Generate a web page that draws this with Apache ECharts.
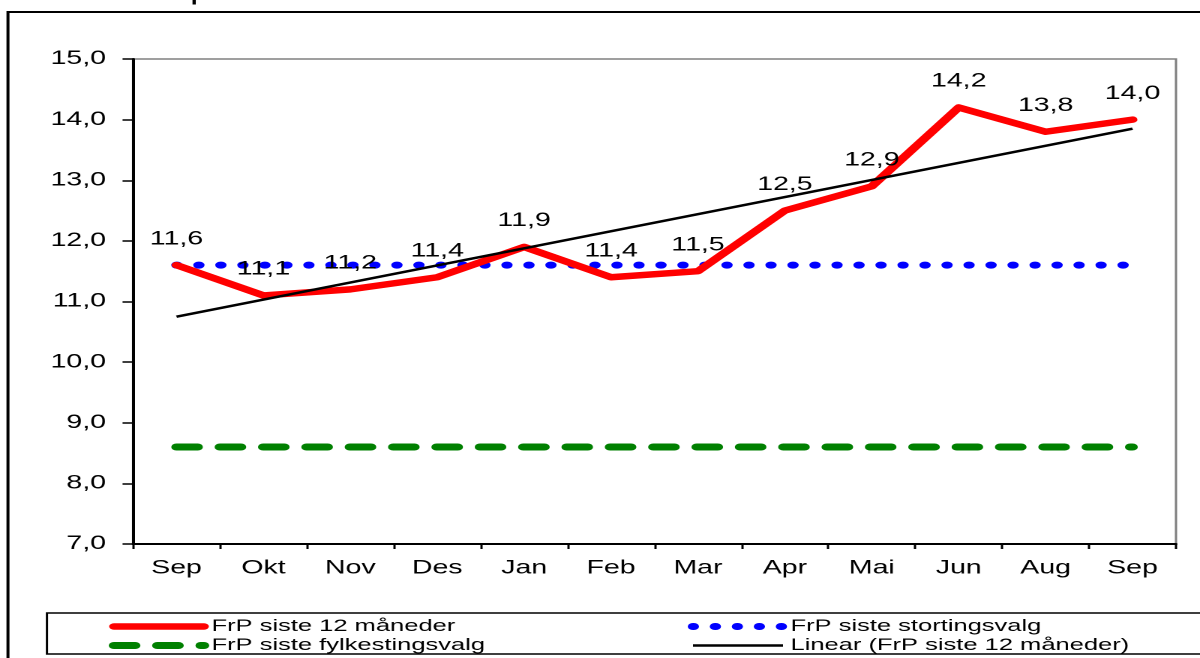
<!DOCTYPE html>
<html>
<head>
<meta charset="utf-8">
<script src="https://cdn.jsdelivr.net/npm/echarts@6/dist/echarts.min.js"></script>
<style>
  html, body { margin: 0; padding: 0; background: #fff; overflow: hidden; }
  /* original picture is stretched sideways, so draw narrow and scale x */
  #wrap { width: 1200px; height: 658px; overflow: hidden; }
  #chart { width: 800px; height: 658px; transform: scaleX(1.5); transform-origin: 0 0; }
</style>
</head>
<body>
<div id="wrap"><div id="chart"></div></div>
<script>
// maaneder
const months = ['Sep', 'Okt', 'Nov', 'Des', 'Jan', 'Feb', 'Mar', 'Apr', 'Mai', 'Jun', 'Aug', 'Sep'];
// FrP siste 12 måneder
const frp12 = [11.6, 11.1, 11.2, 11.4, 11.9, 11.4, 11.5, 12.5, 12.9, 14.2, 13.8, 14.0];
// FrP siste stortingsvalg
const storting = [11.6, 11.6, 11.6, 11.6, 11.6, 11.6, 11.6, 11.6, 11.6, 11.6, 11.6, 11.6];
// FrP siste fylkestingsvalg
const fylkesting = [8.6, 8.6, 8.6, 8.6, 8.6, 8.6, 8.6, 8.6, 8.6, 8.6, 8.6, 8.6];
// trendlinje, lest av ved start og slutt
const trend = [10.75, null, null, null, null, null, null, null, null, null, null, 13.85];
const yTicks = [7, 8, 9, 10, 11, 12, 13, 14, 15];

const names = ['FrP siste 12 måneder', 'FrP siste stortingsvalg', 'FrP siste fylkestingsvalg', 'Linear (FrP siste 12 måneder)'];
const font = 'Liberation Sans, Arial, sans-serif';
const komma = v => v.toFixed(1).replace('.', ',');

const chart = echarts.init(document.getElementById('chart'), null, { renderer: 'canvas', devicePixelRatio: 2 });

const legendBase = {
  orient: 'vertical',
  top: 617,
  itemWidth: 60,
  itemHeight: 2,
  itemGap: 0,
  selectedMode: false,
  textStyle: { fontFamily: font, fontSize: 17, lineHeight: 19, color: '#000' },
  lineStyle: { width: 'inherit', type: 'inherit' },
  padding: 0
};

chart.setOption({
  animation: false,
  backgroundColor: '#fff',
  graphic: [
    {
      type: 'text', left: 3, top: -20, silent: true,
      style: { text: 'Fremskrittspartiet', font: '25px ' + font, fill: '#000' }
    },
    {
      type: 'rect', silent: true, z: -1,
      shape: { x: 5.3, y: 12, width: 900, height: 700 },
      style: { fill: 'none', stroke: '#000', lineWidth: 2 }
    },
    {
      type: 'rect', silent: true, z: -1,
      shape: { x: 31.3, y: 613, width: 900, height: 41 },
      style: { fill: 'none', stroke: '#000', lineWidth: 1.5 }
    }
  ],
  legend: [
    Object.assign({}, legendBase, { left: 72.5, data: [names[0], names[2]] }),
    Object.assign({}, legendBase, { left: 458.5, data: [names[1], names[3]] })
  ],
  grid: {
    left: 88.7, right: 16, top: 59, bottom: 114,
    show: true, borderColor: '#808080', borderWidth: 1.5, backgroundColor: '#fff'
  },
  xAxis: {
    type: 'category',
    data: months,
    boundaryGap: true,
    axisLine: { lineStyle: { color: '#000', width: 2 } },
    axisTick: { show: true, length: 5, lineStyle: { color: '#000', width: 1.5 } },
    axisLabel: { color: '#000', fontFamily: font, fontSize: 19, margin: 15 },
    splitLine: { show: false }
  },
  yAxis: {
    type: 'value',
    min: yTicks[0],
    max: yTicks[yTicks.length - 1],
    interval: 1,
    axisLine: { show: true, lineStyle: { color: '#000', width: 2 } },
    axisTick: { show: true, length: 7, lineStyle: { color: '#000', width: 1.5 } },
    axisLabel: { color: '#000', fontFamily: font, fontSize: 19, margin: 18, formatter: komma },
    splitLine: { show: false }
  },
  series: [
    {
      name: names[2], type: 'line', data: fylkesting,
      symbol: 'none', z: 2,
      lineStyle: { color: '#008000', width: 7, type: [14.1, 14.8], cap: 'round' },
      itemStyle: { color: '#008000' }
    },
    {
      name: names[1], type: 'line', data: storting,
      symbol: 'none', z: 3,
      lineStyle: { color: '#0000ff', width: 7, type: [0.5, 14.17], cap: 'round' },
      itemStyle: { color: '#0000ff' }
    },
    {
      name: names[0], type: 'line', data: frp12,
      symbol: 'circle', symbolSize: 1, z: 4,
      lineStyle: { color: '#ff0000', width: 6.5, join: 'round', cap: 'round' },
      itemStyle: { color: '#ff0000' },
      label: {
        show: true, position: 'top', distance: 16,
        color: '#000', fontFamily: font, fontSize: 19,
        formatter: p => komma(p.value)
      }
    },
    {
      name: names[3], type: 'line', data: trend,
      symbol: 'none', connectNulls: true, z: 5,
      lineStyle: { color: '#000', width: 2.5 },
      itemStyle: { color: '#000' }
    }
  ]
});
</script>
</body>
</html>
